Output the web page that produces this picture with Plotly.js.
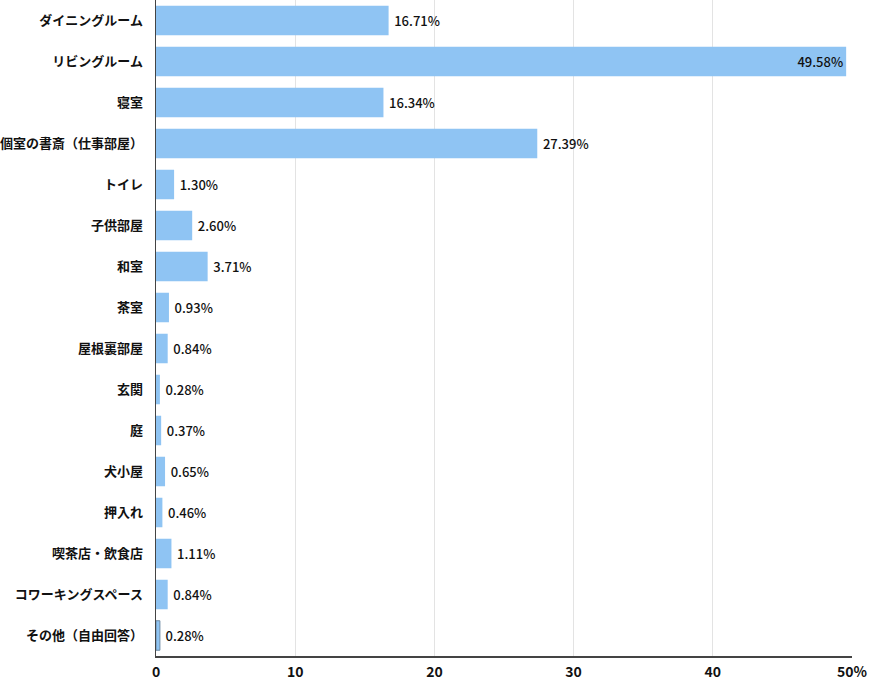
<!DOCTYPE html>
<html><head><meta charset="utf-8">
<script src="https://cdn.plot.ly/plotly-3.0.1.min.js"></script>
<style>body{margin:0;background:#fff}#c{width:870px;height:694px}</style>
</head><body><div id="c"></div>
<script>
const categories = ["ダイニングルーム","リビングルーム","寝室","個室の書斎（仕事部屋）","トイレ","子供部屋","和室","茶室","屋根裏部屋","玄関","庭","犬小屋","押入れ","喫茶店・飲食店","コワーキングスペース","その他（自由回答）"];
const values = [16.71,49.58,16.34,27.39,1.30,2.60,3.71,0.93,0.84,0.28,0.37,0.65,0.46,1.11,0.84,0.28];
const tickVals = [0,10,20,30,40,50];
const tickLabels = ["0","10","20","30","40","50%"];

const font = "'Noto Sans CJK JP', 'Noto Sans', sans-serif";
Plotly.newPlot("c", [{
  type: "bar",
  orientation: "h",
  y: categories,
  x: values,
  marker: {
    color: "#8fc4f3",
    line: {color: categories.map((c,i)=> i===categories.length-1 ? "#6f8aa3" : "rgba(0,0,0,0)"), width: categories.map((c,i)=> i===categories.length-1 ? 1 : 0)}
  },
  text: values.map(v => (v > 45 ? "" : "\u2009") + v.toFixed(2) + "%"),
  textposition: values.map(v => v > 45 ? "inside" : "outside"),
  insidetextanchor: "end",
  textfont: {family: font, size: 13, color: "#111", weight: 500},
  cliponaxis: false,
  hoverinfo: "none"
}], {
  width: 870, height: 694,
  margin: {l: 156, r: 18, t: 0, b: 38},
  bargap: 0.28,
  paper_bgcolor: "#fff", plot_bgcolor: "#fff",
  font: {family: font, color: "#111"},
  showlegend: false,
  xaxis: {
    range: [0, 50],
    tickvals: tickVals, ticktext: tickLabels,
    showgrid: true, gridcolor: "#e3e3e3", gridwidth: 1,
    zeroline: false,
    showline: true, linecolor: "#444", linewidth: 1.5,
    ticks: "", ticklabelstandoff: 3,
    tickfont: {family: font, size: 14, color: "#111", weight: 700},
    fixedrange: true
  },
  yaxis: {
    autorange: "reversed",
    showline: true, linecolor: "#444", linewidth: 1.5,
    showgrid: false, zeroline: false,
    ticks: "", ticklabelstandoff: 9,
    tickfont: {family: font, size: 13, color: "#111", weight: 700},
    fixedrange: true
  }
}, {displayModeBar: false, staticPlot: true});
</script>
</body></html>
